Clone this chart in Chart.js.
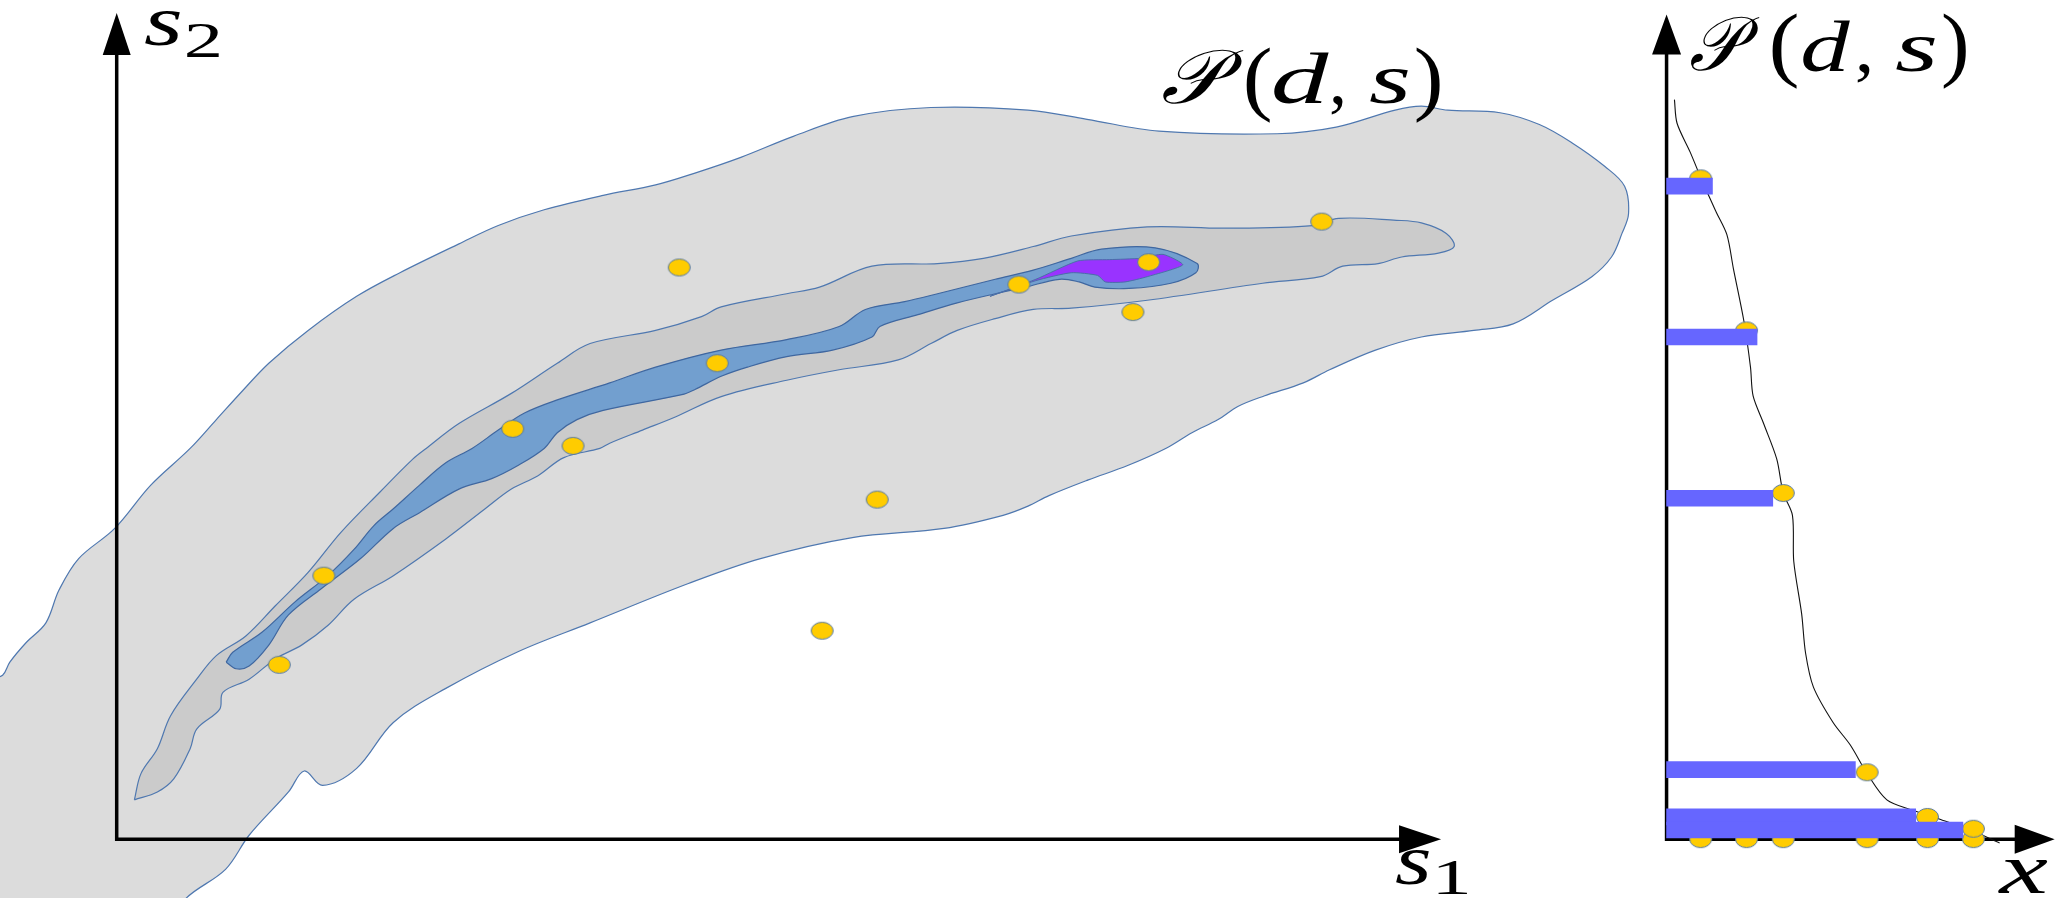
<!DOCTYPE html>
<html>
<head>
<meta charset="utf-8">
<script src="https://cdn.jsdelivr.net/npm/chart.js@4.4.1/dist/chart.umd.min.js"></script>
<style>
  html, body { margin: 0; padding: 0; background: #fff; }
  #wrap { position: relative; width: 2056px; height: 898px; }
  #wrap canvas { position: absolute; left: 0; top: 0; width: 2056px; height: 898px; }
</style>
</head>
<body>
<div id="wrap">
  <canvas id="left" width="2056" height="898"></canvas>
  <canvas id="right" width="2056" height="898"></canvas>
</div>
<script>
// ---- left panel: density contours over (s1, s2) ----
const outerContour = [
  [-0.99,-0.60],[-0.99,1.20],[-0.87,1.25],[-0.815,1.35],[-0.69,1.50],[-0.54,1.65],[-0.44,1.90],
  [-0.29,2.14],[-0.015,2.37],[0.26,2.70],[0.56,2.98],[0.76,3.20],[0.96,3.42],[1.16,3.63],
  [1.46,3.88],[1.83,4.14],[2.16,4.32],[2.61,4.54],[2.91,4.68],[3.26,4.80],[3.71,4.91],
  [4.11,4.99],[4.41,5.08],[4.76,5.20],[5.16,5.36],[5.61,5.51],[6.21,5.58],[6.95,5.56],
  [7.40,5.49],[7.95,5.40],[8.85,5.38],[9.30,5.43],[9.75,5.56],[9.95,5.59],[10.15,5.56],
  [10.55,5.54],[10.85,5.45],[11.10,5.31],[11.35,5.13],[11.50,4.98],[11.53,4.77],[11.48,4.62],
  [11.40,4.44],[11.25,4.29],[10.95,4.11],[10.65,3.93],[10.35,3.88],[9.95,3.83],[9.60,3.73],
  [9.25,3.58],[9.05,3.48],[8.75,3.38],[8.55,3.30],[8.40,3.20],[8.20,3.10],[8.00,2.98],
  [7.71,2.85],[7.41,2.74],[7.11,2.62],[6.95,2.54],[6.76,2.47],[6.31,2.37],[5.61,2.30],
  [4.91,2.14],[4.36,1.95],[3.61,1.65],[3.06,1.43],[2.51,1.15],[2.11,0.89],[1.83,0.54],
  [1.57,0.41],[1.43,0.52],[1.31,0.36],[1.01,0.03],[0.83,-0.23],[0.53,-0.45],[0.46,-0.60],
  [-0.99,-0.60]
];
const middleContour = [
  [0.135,0.30],[0.185,0.50],[0.31,0.69],[0.41,0.94],[0.61,1.22],[0.76,1.40],[0.985,1.55],
  [1.21,1.78],[1.46,2.035],[1.71,2.34],[2.01,2.65],[2.26,2.90],[2.36,2.98],[2.61,3.17],
  [3.01,3.40],[3.36,3.63],[3.61,3.78],[4.11,3.88],[4.46,3.985],[4.61,4.06],[5.11,4.16],
  [5.36,4.21],[5.76,4.37],[6.26,4.39],[6.61,4.43],[6.99,4.52],[7.28,4.60],[7.86,4.67],
  [8.45,4.66],[9.12,4.68],[9.32,4.735],[9.76,4.72],[9.95,4.70],[10.14,4.62],[10.20,4.52],
  [10.08,4.47],[9.80,4.44],[9.62,4.39],[9.35,4.37],[9.18,4.29],[8.74,4.24],[7.86,4.11],
  [7.28,4.05],[6.99,4.04],[6.70,3.97],[6.41,3.88],[6.21,3.78],[5.96,3.655],[5.51,3.58],
  [5.11,3.50],[4.61,3.375],[4.26,3.22],[4.01,3.12],[3.76,3.02],[3.685,2.98],[3.41,2.91],
  [3.21,2.77],[3.01,2.67],[2.81,2.52],[2.51,2.29],[2.11,2.01],[1.81,1.83],[1.61,1.63],
  [1.41,1.48],[1.21,1.375],[1.01,1.22],[0.81,1.12],[0.785,0.99],[0.61,0.84],[0.56,0.69],
  [0.435,0.46],[0.31,0.36],[0.135,0.30]
];
const innerContour = [
  [0.835,1.35],[0.885,1.425],[1.11,1.58],[1.36,1.81],[1.61,2.01],[1.81,2.21],[1.96,2.39],
  [2.11,2.52],[2.31,2.70],[2.51,2.87],[2.71,2.98],[2.91,3.12],[3.11,3.25],[3.36,3.35],
  [3.76,3.48],[4.11,3.60],[4.61,3.73],[5.11,3.81],[5.51,3.91],[5.71,4.04],[6.01,4.10],
  [6.26,4.16],[6.70,4.27],[6.99,4.34],[7.28,4.43],[7.51,4.50],[7.92,4.51],[8.24,4.39],
  [8.23,4.32],[8.04,4.24],[7.72,4.20],[7.46,4.21],[7.34,4.25],[7.19,4.27],[6.93,4.21],
  [6.70,4.16],[6.41,4.09],[6.11,4.00],[5.82,3.91],[5.76,3.83],[5.46,3.73],[5.11,3.68],
  [4.81,3.60],[4.61,3.53],[4.41,3.43],[4.31,3.39],[3.71,3.27],[3.51,3.20],[3.36,3.10],
  [3.26,2.98],[3.06,2.85],[2.86,2.75],[2.61,2.67],[2.31,2.49],[2.11,2.37],[1.86,2.14],
  [1.56,1.91],[1.31,1.71],[1.16,1.48],[1.01,1.32],[0.91,1.30],[0.835,1.35]
];
const peakContour = [
  [6.66,4.14],[7.01,4.27],[7.33,4.41],[7.57,4.42],[7.81,4.43],[7.98,4.46],[8.13,4.38],
  [7.86,4.29],[7.69,4.25],[7.54,4.25],[7.48,4.30],[7.28,4.32],[7.01,4.26],[6.66,4.14]
];
const sampleS1 = [4.29, 9.19, 7.87, 6.88, 7.75, 4.58, 3.02, 3.48, 5.80, 1.58, 1.24, 5.38];
const sampleS2 = [4.36, 4.71, 4.40, 4.23, 4.02, 3.63, 3.13, 3.00, 2.59, 2.01, 1.33, 1.59];

// ---- right panel: P(d,s) against x ----
const curveX = [0.06,0.08,0.18,0.28,0.38,0.46,0.51,0.59,0.64,0.66,0.74,0.84,0.89,0.96,
                0.97,1.03,1.06,1.12,1.27,1.40,1.53,1.68,1.88,2.09,2.34,2.54];
const curveP = [5.64,5.46,5.24,5.00,4.78,4.61,4.35,3.95,3.60,3.38,3.17,2.90,2.64,2.47,
                2.12,1.72,1.42,1.16,0.89,0.72,0.50,0.30,0.22,0.15,0.06,-0.03];
const sampleX = [0.26, 0.61, 0.89, 1.53, 1.99, 2.34];
const sampleP = [5.04, 3.88, 2.64, 0.51, 0.17, 0.08];
const barLevel = [4.98, 3.83, 2.60, 0.53, 0.17, 0.07];
const barLength = [0.35, 0.69, 0.81, 1.44, 1.90, 2.26];

// ---- layout ----
const W = 2056, H = 898;
const PX_PER_UNIT = 2056 / 1568 * 100;

const pairs = list => list.map(([x, y]) => ({x, y}));
const zip = (xs, ys) => xs.map((x, i) => ({x, y: ys[i]}));

function makeDot() {
  const c = document.createElement('canvas');
  c.width = 25; c.height = 20;
  const g = c.getContext('2d');
  g.beginPath();
  g.ellipse(12.5, 10, 11, 8.5, 0, 0, Math.PI * 2);
  g.fillStyle = '#FFCC00';
  g.fill();
  g.lineWidth = 1;
  g.strokeStyle = '#5479a8';
  g.stroke();
  return c;
}
const dot = makeDot();

function baseOptions(xMin, yMax) {
  return {
    responsive: false,
    maintainAspectRatio: false,
    animation: false,
    devicePixelRatio: 1,
    events: [],
    layout: { padding: 0, autoPadding: false },
    scales: {
      x: { type: 'linear', display: false, offset: false, bounds: 'data', min: xMin, max: xMin + W / PX_PER_UNIT },
      y: { type: 'linear', display: false, offset: false, bounds: 'data', min: yMax - H / PX_PER_UNIT, max: yMax }
    }
  };
}

function drawAxes(chart, o) {
  const {ctx} = chart;
  const x = chart.scales.x, y = chart.scales.y;
  const x0 = x.getPixelForValue(0), y0 = y.getPixelForValue(0);
  const xt = x.getPixelForValue(o.xTip), yt = y.getPixelForValue(o.yTip);
  ctx.save();
  ctx.strokeStyle = '#000';
  ctx.fillStyle = '#000';
  ctx.lineWidth = o.width;
  ctx.beginPath();
  ctx.moveTo(x0, y0 + o.width / 2);
  ctx.lineTo(x0, yt + o.head - 2);
  ctx.moveTo(x0 - o.width / 2, y0);
  ctx.lineTo(xt - o.head + 2, y0);
  ctx.stroke();
  ctx.beginPath();
  ctx.moveTo(x0, yt);
  ctx.lineTo(x0 - o.half, yt + o.head);
  ctx.lineTo(x0 + o.half, yt + o.head);
  ctx.closePath();
  ctx.moveTo(xt, y0);
  ctx.lineTo(xt - o.head, y0 - o.half);
  ctx.lineTo(xt - o.head, y0 + o.half);
  ctx.closePath();
  ctx.fill();
  ctx.restore();
}

const arrowAxes = {
  id: 'arrowAxes',
  beforeDatasetsDraw(chart, args, o) { if (!o.above) drawAxes(chart, o); },
  afterDatasetsDraw(chart, args, o) { if (o.above) drawAxes(chart, o); }
};

// math-style labels, each glyph fitted into its box
const mathLabels = {
  id: 'mathLabels',
  afterDraw(chart, args, o) {
    const {ctx} = chart;
    ctx.save();
    ctx.fillStyle = '#000';
    ctx.textBaseline = 'alphabetic';
    ctx.textAlign = 'left';
    for (const g of o.glyphs) {
      ctx.font = g.f;
      const m = ctx.measureText(g.t);
      const w = m.actualBoundingBoxLeft + m.actualBoundingBoxRight;
      const sx = (g.x1 - g.x0) / w;
      ctx.save();
      ctx.translate(g.x0, g.b);
      ctx.scale(sx, 1);
      ctx.fillText(g.t, m.actualBoundingBoxLeft, 0);
      ctx.restore();
    }
    ctx.restore();
  }
};

const IT = 'italic 72px "Liberation Serif", "DejaVu Serif", serif';
const RM = '72px "Liberation Serif", "DejaVu Serif", serif';
const SUB = '50px "Liberation Serif", "DejaVu Serif", serif';
const PAR = '82px "Liberation Serif", "DejaVu Serif", serif';
const CAL = 'italic 76px "Liberation Serif", "DejaVu Serif", "DejaVu Sans", serif';

const outline = '#4f78b0';

// left chart
const leftOpts = baseOptions(-0.89, 6.40);
leftOpts.plugins = {
  legend: { display: false },
  tooltip: { enabled: false },
  arrowAxes: { above: true, xTip: 10.10, yTip: 6.30, width: 3.5, head: 42, half: 14 },
  mathLabels: { glyphs: [
    { t: 's', f: IT, x0: 144, x1: 180, b: 45 },
    { t: '2', f: SUB, x0: 187, x1: 220, b: 57 },
    { t: 's', f: IT, x0: 1395, x1: 1429, b: 884 },
    { t: '1', f: SUB, x0: 1438, x1: 1467, b: 894 },
    { t: '\u{1D4AB}', f: CAL, x0: 1162, x1: 1244, b: 103 },
    { t: '(', f: PAR, x0: 1246, x1: 1270, b: 105 },
    { t: 'd', f: IT, x0: 1274, x1: 1330, b: 103 },
    { t: ',', f: RM, x0: 1331, x1: 1343, b: 103 },
    { t: 's', f: IT, x0: 1369, x1: 1408, b: 103 },
    { t: ')', f: PAR, x0: 1416, x1: 1440, b: 105 }
  ]}
};

new Chart(document.getElementById('left'), {
  type: 'scatter',
  data: {
    datasets: [
      { data: zip(sampleS1, sampleS2), pointStyle: dot, pointRadius: 10, order: 0 },
      { data: pairs(peakContour), showLine: true, fill: 'shape', tension: 0.2, pointRadius: 0,
        backgroundColor: '#9933FF', borderColor: '#4a6fa8', borderWidth: 1, order: 1 },
      { data: pairs(innerContour), showLine: true, fill: 'shape', tension: 0.35, pointRadius: 0,
        backgroundColor: '#729FCF', borderColor: '#3f67a0', borderWidth: 1.2, order: 2 },
      { data: pairs(middleContour), showLine: true, fill: 'shape', tension: 0.35, pointRadius: 0,
        backgroundColor: '#CBCBCB', borderColor: outline, borderWidth: 1.2, order: 3 },
      { data: pairs(outerContour), showLine: true, fill: 'shape', tension: 0.35, pointRadius: 0,
        backgroundColor: '#DCDCDC', borderColor: outline, borderWidth: 1.2, order: 4 }
    ]
  },
  options: leftOpts,
  plugins: [arrowAxes, mathLabels]
});

// right chart
const rightOpts = baseOptions(-12.71, 6.40);
rightOpts.plugins = {
  legend: { display: false },
  tooltip: { enabled: false },
  arrowAxes: { above: false, xTip: 2.96, yTip: 6.29, width: 3.5, head: 40, half: 14.5 },
  mathLabels: { glyphs: [
    { t: '\u{1D4AB}', f: CAL, x0: 1690, x1: 1760, b: 70 },
    { t: '(', f: PAR, x0: 1772, x1: 1797, b: 71 },
    { t: 'd', f: IT, x0: 1803, x1: 1851, b: 71 },
    { t: ',', f: RM, x0: 1857, x1: 1870, b: 71 },
    { t: 's', f: IT, x0: 1895, x1: 1935, b: 71 },
    { t: ')', f: PAR, x0: 1943, x1: 1966, b: 71 },
    { t: 'x', f: IT, x0: 1998, x1: 2048, b: 893 }
  ]}
};

new Chart(document.getElementById('right'), {
  type: 'scatter',
  data: {
    datasets: [
      { type: 'bar', indexAxis: 'y', data: zip(barLength, barLevel), barThickness: 16,
        backgroundColor: '#6666FF', borderWidth: 0, order: 0 },
      { data: zip(sampleX, sampleP), pointStyle: dot, pointRadius: 10, order: 1 },
      { data: sampleX.map(x => ({x, y: 0})), pointStyle: dot, pointRadius: 10, order: 1 },
      { data: zip(curveX, curveP), showLine: true, pointRadius: 0, tension: 0.3,
        borderColor: '#111', borderWidth: 1.1, order: 2 }
    ]
  },
  options: rightOpts,
  plugins: [arrowAxes, mathLabels]
});
</script>
</body>
</html>
